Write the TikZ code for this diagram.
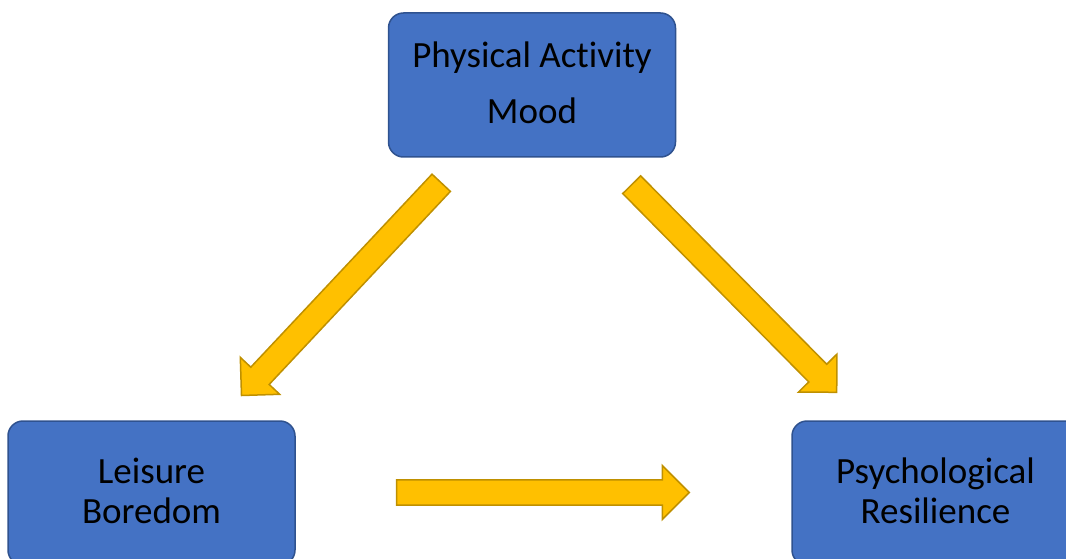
\documentclass[tikz,border=0pt]{standalone}
\usepackage{fontspec}
\setmainfont{Carlito}[Ligatures={NoCommon,NoContextual}]
\usetikzlibrary{calc}
\definecolor{boxfill}{HTML}{4472C4}
\definecolor{boxline}{HTML}{2F528F}
\definecolor{arrfill}{HTML}{FFC000}
\definecolor{arrline}{HTML}{BF9000}
\newcommand\lift{\rule[-5pt]{0pt}{5pt}}
\tikzset{
  box/.style={draw=boxline, line width=1.5pt, fill=boxfill, rounded corners=15pt,
    minimum width=287pt, minimum height=144pt, align=center, inner sep=0pt,
    font=\fontsize{37}{40}\selectfont, text=black},
  blockarrow/.style={draw=arrline, line width=1.5pt, fill=arrfill, line join=miter}
}
\newcommand\fatarrow[2]{%
  \draw[blockarrow]
    ($(#1)!12.6pt!90:(#2)$) --
    ($($(#2)!27pt!(#1)$)!12.6pt!-90:(#1)$) --
    ($($(#2)!27pt!(#1)$)!27pt!-90:(#1)$) --
    (#2) --
    ($($(#2)!27pt!(#1)$)!27pt!90:(#1)$) --
    ($($(#2)!27pt!(#1)$)!12.6pt!90:(#1)$) --
    ($(#1)!12.6pt!-90:(#2)$) -- cycle;}
\begin{document}
\begin{tikzpicture}[x=1pt,y=-1pt]
\useasboundingbox (0,0) rectangle (1066,559);
\node[box] (pa) at (532,85) {Physical Act\kern0pt ivity\\[16pt]Mood\lift};
\node[box] (lb) at (151.5,493) {Leisure\\Boredom\lift};
\node[box] (pr) at (935.5,493) {Psychological\\Resilience\lift};
\coordinate (a1s) at (441.2,182.8);
\coordinate (a1e) at (241.5,395.5);
\coordinate (a2s) at (631.7,184.7);
\coordinate (a2e) at (836.7,392.3);
\coordinate (a3s) at (396.7,492.5);
\coordinate (a3e) at (689.3,492.5);
\fatarrow{a1s}{a1e}
\fatarrow{a2s}{a2e}
\fatarrow{a3s}{a3e}
\end{tikzpicture}
\end{document}
